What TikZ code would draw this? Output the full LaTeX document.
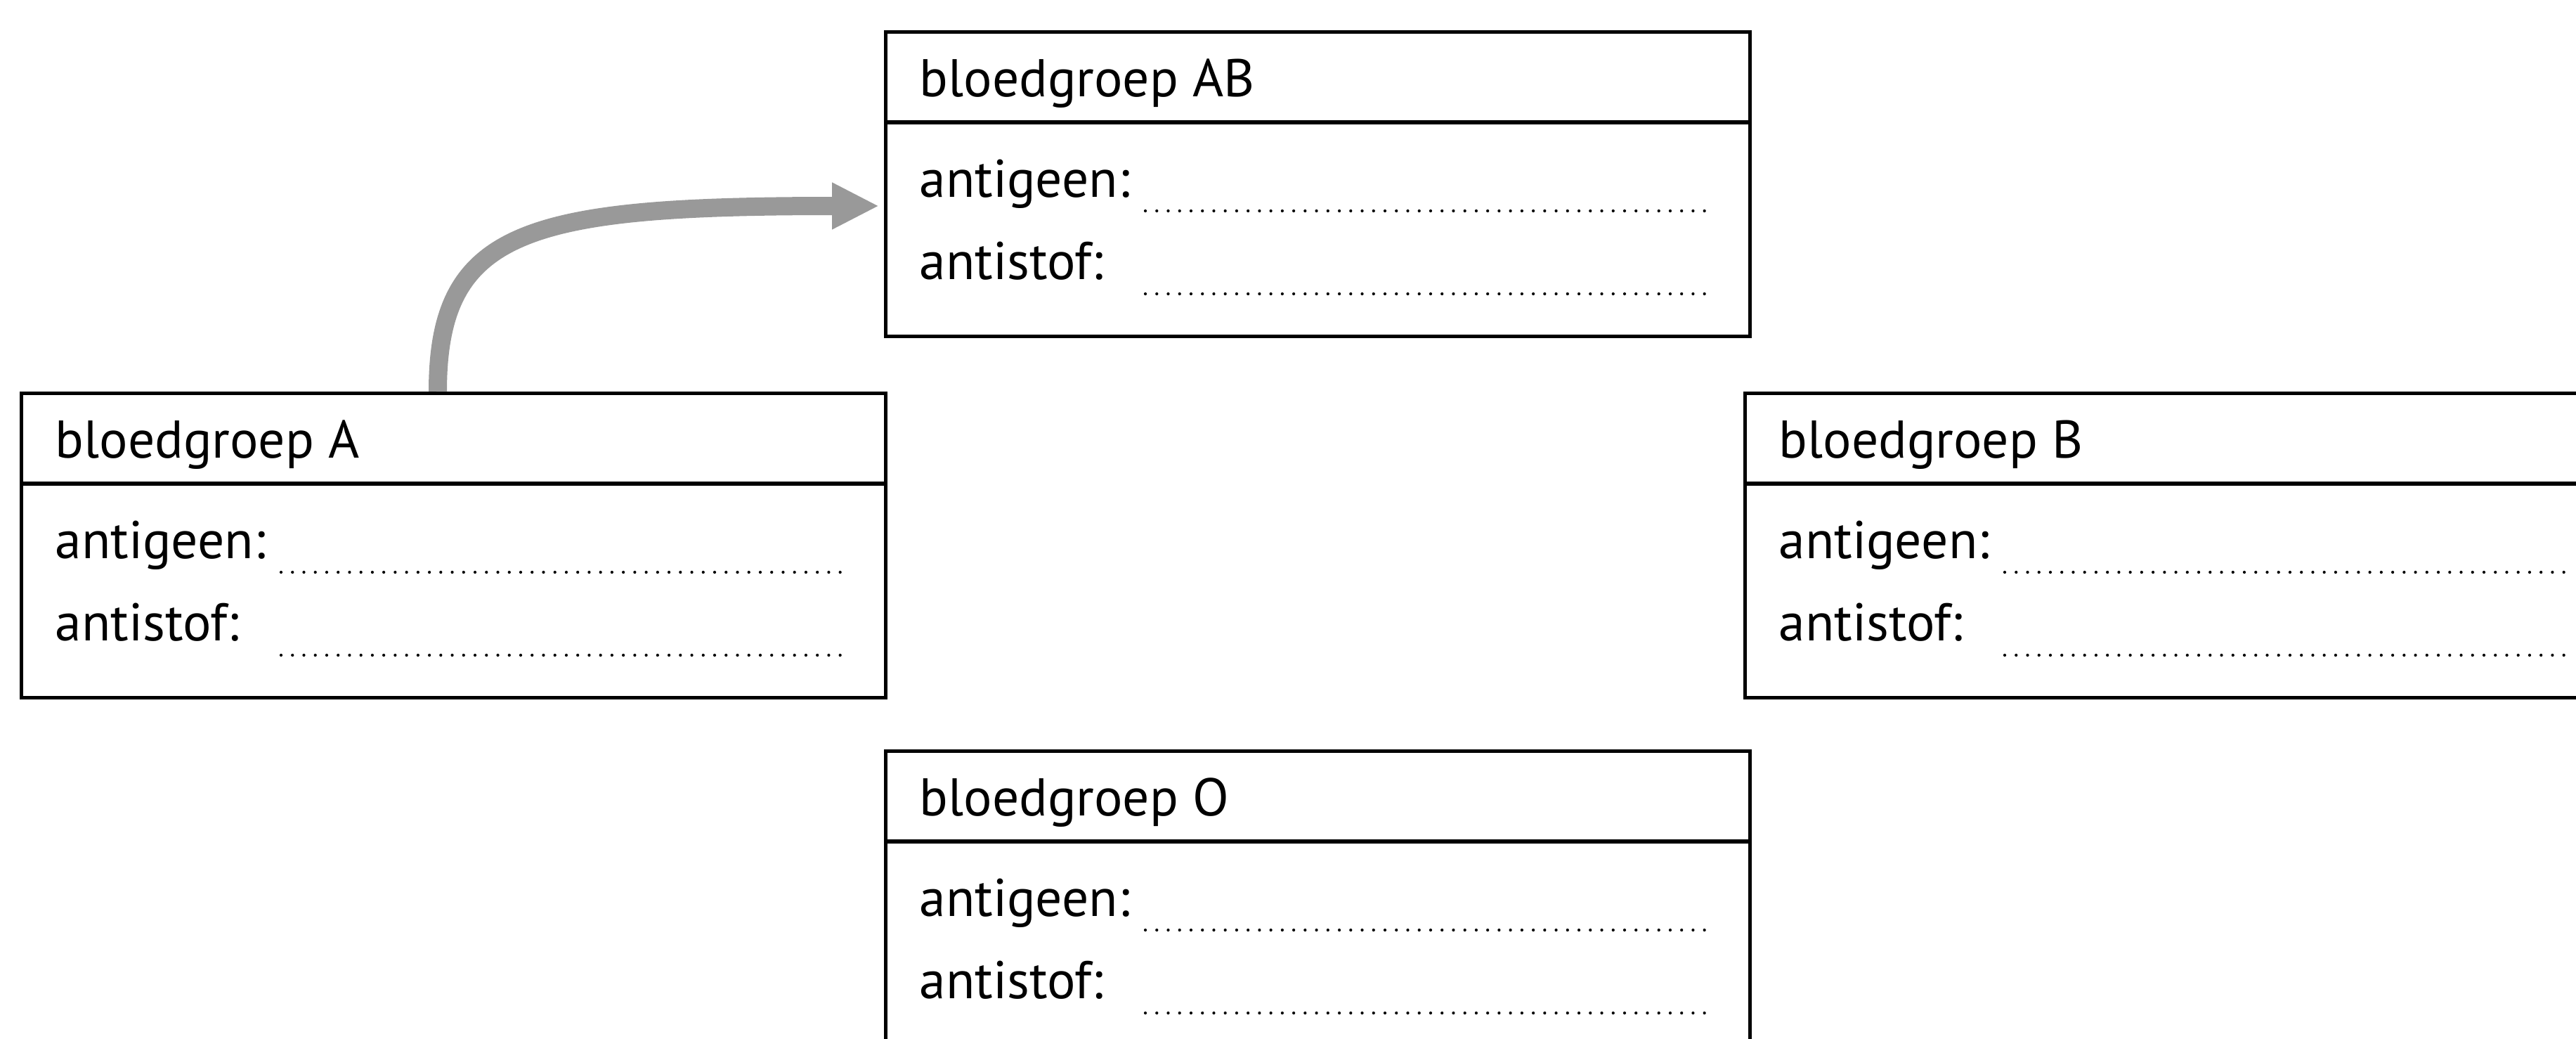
\documentclass[tikz,border=0pt]{standalone}
\usepackage{fontspec}
\setmainfont{PT Sans}
\usepackage{xcolor}
\usepackage{tikz}
\usetikzlibrary{arrows.meta,positioning,calc}
\definecolor{arrowgrey}{RGB}{153,153,153}

\begin{document}
\begin{tikzpicture}[>=Latex,every node/.style={font=\fontsize{21.5}{26}\selectfont},
  groupbox/.style={draw,line width=1.5pt,minimum width=12.3cm,minimum height=4.33cm,anchor=north west,inner sep=0pt},
  grouptext/.style={anchor=base west,inner sep=0pt},
  blank/.style={line width=1.2pt,line cap=round,dash pattern=on 0pt off 4.62pt}]
\useasboundingbox (0,0) rectangle (36.66,-14.78);
\node[groupbox] (a) at (0.28,-5.57) {};
\node[groupbox] (ab) at (12.58,-0.43) {};
\node[groupbox] (b) at (24.81,-5.57) {};
\node[groupbox] (o) at (12.58,-10.66) {};
\foreach \g/\t in {a/A,ab/AB,b/B,o/O}{
  \draw[line width=1.5pt] ([yshift=-1.31cm]\g.north west) -- ([yshift=-1.31cm]\g.north east);
  \node[grouptext] (\g-head) at ([xshift=0.5cm,yshift=-0.94cm]\g.north west) {bloedgroep \t};
  \node[grouptext] (\g-gen) at ([xshift=0.5cm,yshift=-2.37cm]\g.north west) {antigeen:};
  \node[grouptext] (\g-stof) at ([xshift=0.5cm,yshift=-3.54cm]\g.north west) {antistof:};
  \draw[blank] ([xshift=3.72cm,yshift=-2.57cm]\g.north west) -- ([xshift=11.75cm,yshift=-2.57cm]\g.north west);
  \draw[blank] ([xshift=3.72cm,yshift=-3.75cm]\g.north west) -- ([xshift=11.75cm,yshift=-3.75cm]\g.north west);
}
\draw[arrowgrey,line width=0.26cm,-{Triangle[length=0.67cm,width=0.62cm]}]
  ([xshift=5.95cm]a.north west) .. controls ([xshift=5.95cm,yshift=2.3cm]a.north west) and ([xshift=-5.1cm,yshift=-2.5cm]ab.north west) .. ([xshift=-0.07cm,yshift=-2.5cm]ab.north west);
\end{tikzpicture}
\end{document}
